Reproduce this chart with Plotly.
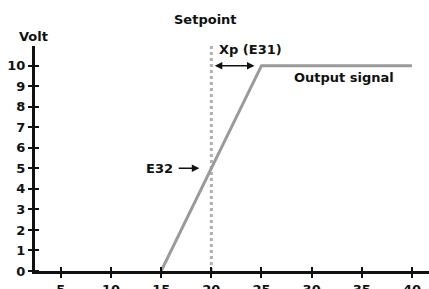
import plotly.graph_objects as go

# Data
signal_x = [15, 25, 40]
signal_y = [0, 10, 10]
setpoint_x = 20
setpoint_top = 11
x_ticks = [5, 10, 15, 20, 25, 30, 35, 40]
y_ticks = [0, 1, 2, 3, 4, 5, 6, 7, 8, 9, 10]

FONT = dict(family="DejaVu Sans, Arial", size=13, color="#111", weight="bold")

fig = go.Figure()
fig.add_trace(go.Scatter(x=[setpoint_x, setpoint_x], y=[0, setpoint_top], mode="lines",
                         line=dict(color="#b0b0b0", width=3, dash="dot"), hoverinfo="skip",
                         cliponaxis=False))
fig.add_trace(go.Scatter(x=signal_x, y=signal_y, mode="lines",
                         line=dict(color="#9a9a9a", width=3), hoverinfo="skip"))

axis_common = dict(showgrid=False, zeroline=False, showline=True, linecolor="#111",
                   linewidth=3, ticks="outside", ticklen=4, tickwidth=2, tickcolor="#111",
                   tickfont=FONT, automargin=False, layer="above traces")
fig.update_xaxes(range=[2.42, 41.7], tickvals=x_ticks, **axis_common,
                 minor=dict(tickvals=x_ticks, ticks="inside", ticklen=4, tickwidth=2, tickcolor="#111"))
fig.update_yaxes(range=[0, 10.96], tickvals=y_ticks, **axis_common,
                 minor=dict(tickvals=y_ticks, ticks="inside", ticklen=4, tickwidth=2, tickcolor="#111"))

ann = [
    dict(x=20.6, y=10.77, text="Xp (E31)", xanchor="left"),
    dict(x=28.0, y=9.45, text="Output signal", xanchor="left"),
    dict(x=16.4, y=5.0, text="E32", xanchor="right"),
]
for a in ann:
    a.update(xref="x", yref="y", font=FONT, showarrow=False)
    fig.add_annotation(**a)

fig.add_annotation(x=-0.005, y=1.044, xref="paper", yref="paper", text="Volt",
                   showarrow=False, font=FONT, xanchor="center", yanchor="middle")
fig.add_annotation(x=0.434, y=1.116, xref="paper", yref="paper", text="Setpoint",
                   showarrow=False, font=FONT, xanchor="center", yanchor="middle")

# arrows
fig.add_annotation(x=18.8, y=5.0, ax=16.6, ay=5.0, xref="x", yref="y", axref="x", ayref="y",
                   text="", showarrow=True, arrowhead=2, arrowsize=1, arrowwidth=1.5, arrowcolor="#111")
fig.add_annotation(x=24.3, y=10.0, ax=20.2, ay=10.0, xref="x", yref="y", axref="x", ayref="y",
                   text="", showarrow=True, arrowhead=2, startarrowhead=2, arrowside="end+start",
                   arrowsize=1, arrowwidth=1.5, arrowcolor="#111")

fig.update_layout(width=429, height=289, margin=dict(l=35, r=0, t=46, b=18),
                  plot_bgcolor="white", paper_bgcolor="white", showlegend=False)
fig.write_html("out.html", config={"displayModeBar": False},
               post_script="document.body.style.margin='0';document.body.style.overflow='hidden';")
